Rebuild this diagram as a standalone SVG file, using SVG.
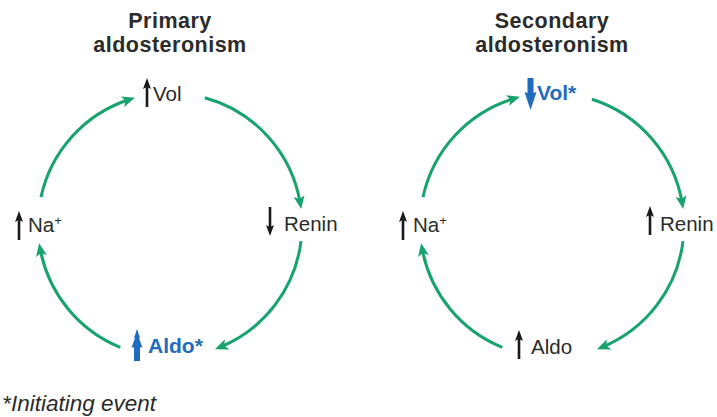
<svg xmlns="http://www.w3.org/2000/svg" xmlns:xlink="http://www.w3.org/1999/xlink" width="717" height="417" viewBox="0 0 717 417">
<style>
.title{font-family:"Liberation Sans",Arial,sans-serif;font-weight:bold;font-size:21.5px;fill:#2b2b2b;text-anchor:middle;letter-spacing:0.5px}
.lbl{font-family:"Liberation Sans",Arial,sans-serif;font-size:20.5px;fill:#2b2b2b}
.blue{font-family:"Liberation Sans",Arial,sans-serif;font-size:21px;font-weight:bold;fill:#1f6bbf}
.sup{font-size:13px}
.foot{font-family:"Liberation Sans",Arial,sans-serif;font-style:italic;font-size:22.5px;fill:#2b2b2b}
.conn{fill:none;stroke:#17a36d;stroke-width:3;marker-end:url(#ah)}
.blk{fill:#1a1a1a}
.bl{fill:#1f6bbf}
</style>
<defs>
<marker id="ah" markerUnits="userSpaceOnUse" markerWidth="16" markerHeight="12" refX="7" refY="5.5" orient="auto">
<path d="M0,0 L13,5.5 L0,11 L3,5.5 Z" fill="#17a36d"/>
</marker>
<path id="up" d="M0,0 L4,11 L1.3,9.5 L1.3,29 L-1.3,29 L-1.3,9.5 L-4,11 Z"/>
</defs>

<text class="title" x="170" y="28">Primary</text>
<text class="title" x="170" y="52">aldosteronism</text>
<text class="title" x="552" y="28">Secondary</text>
<text class="title" x="552" y="52">aldosteronism</text>

<g id="connectors">
<path class="conn" d="M41,197.1 A132,132 0 0 1 129.2,99.5"/>
<path class="conn" d="M204.8,97.7 A132,132 0 0 1 300.2,203"/>
<path class="conn" d="M301,241.1 A132,132 0 0 1 220.5,347"/>
<path class="conn" d="M120.3,347.3 A132,132 0 0 1 40.2,249.1"/>
<path class="conn" d="M423,197.1 A132,132 0 0 1 514.3,98.5"/>
<path class="conn" d="M591.9,99.2 A132,132 0 0 1 682.2,203"/>
<path class="conn" d="M683,241.1 A132,132 0 0 1 602.5,347"/>
<path class="conn" d="M502.3,347.3 A132,132 0 0 1 422.2,249.1"/>
</g>

<g id="p-vol">
<use xlink:href="#up" class="blk" transform="translate(147,78)"/>
<text class="lbl" x="153" y="101">Vol</text>
</g>
<g id="p-renin">
<use xlink:href="#up" class="blk" transform="translate(270,236) rotate(180)"/>
<text class="lbl" x="284" y="231">Renin</text>
</g>
<g id="p-aldo">
<path class="bl" d="M137,329 L140,338 L139,338 L142.5,348 L140,347 L140,361 L134,361 L134,347 L131.5,348 L135,338 L134,338 Z"/>
<text class="blue" x="148" y="353">Aldo*</text>
</g>
<g id="p-na">
<use xlink:href="#up" class="blk" transform="translate(19,211)"/>
<text class="lbl" x="28" y="232">Na<tspan class="sup" dy="-7">+</tspan></text>
</g>

<g id="s-vol">
<path class="bl" d="M527.5,78 L533.5,78 L533.5,93 L536.5,92 L530.5,110 L524.5,92 L527.5,93 Z"/>
<text class="blue" x="537" y="100">Vol*</text>
</g>
<g id="s-renin">
<use xlink:href="#up" class="blk" transform="translate(650,206)"/>
<text class="lbl" x="660" y="231">Renin</text>
</g>
<g id="s-aldo">
<use xlink:href="#up" class="blk" transform="translate(519,330)"/>
<text class="lbl" x="531" y="354">Aldo</text>
</g>
<g id="s-na">
<use xlink:href="#up" class="blk" transform="translate(403,211)"/>
<text class="lbl" x="413" y="232">Na<tspan class="sup" dy="-7">+</tspan></text>
</g>

<text class="foot" x="2" y="411">*<tspan x="11">Initiating event</tspan></text>
</svg>
